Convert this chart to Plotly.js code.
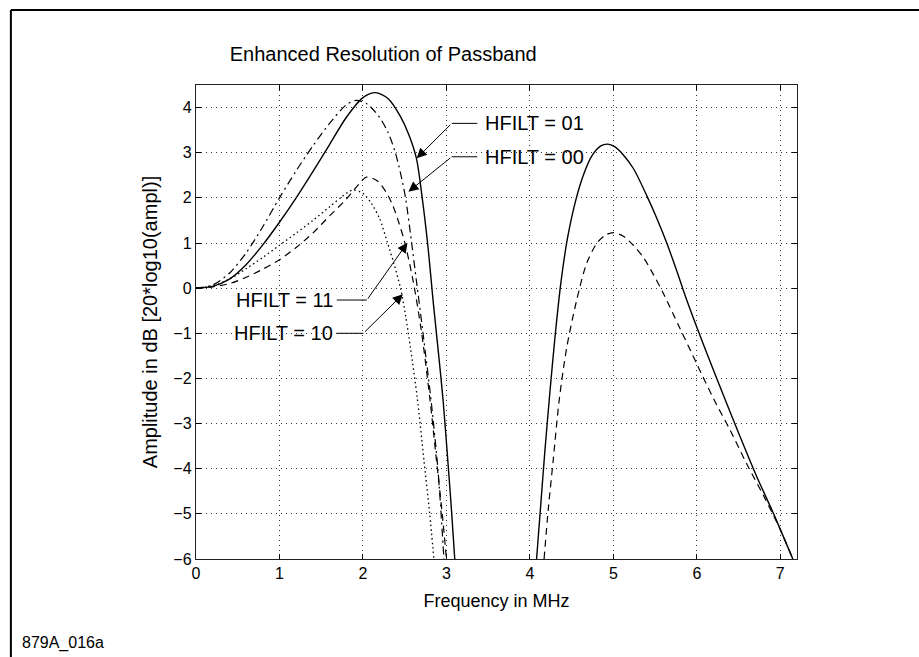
<!DOCTYPE html>
<html><head><meta charset="utf-8">
<script src="https://cdn.plot.ly/plotly-3.0.1.min.js"></script>
<style>html,body{margin:0;padding:0;background:#fff}#chart{width:919px;height:657px}</style>
</head><body><div id="chart"></div>
<script>
// HFILT = 01 (solid)
const fSolid1 = [0, 0.2, 0.4, 0.6, 0.8, 1.0, 1.2, 1.4, 1.6, 1.8, 2.0, 2.15, 2.3, 2.45, 2.55, 2.64, 2.71, 2.78, 2.84, 2.9, 2.96, 3.02, 3.06, 3.1];
const vSolid1 = [0, 0.04, 0.2, 0.52, 0.96, 1.46, 2.0, 2.58, 3.18, 3.78, 4.22, 4.33, 4.2, 3.8, 3.4, 2.88, 2.0, 0.9, -0.27, -1.35, -2.48, -3.9, -4.9, -6];
const fSolid2 = [4.08, 4.13, 4.18, 4.24, 4.3, 4.37, 4.45, 4.55, 4.65, 4.75, 4.85, 4.93, 5.02, 5.12, 5.24, 5.4, 5.52, 5.64, 5.76, 5.88, 6.1, 6.4, 6.7, 6.92, 7.15];
const vSolid2 = [-6, -4.8, -3.6, -2.3, -1.1, 0.1, 1.1, 1.95, 2.55, 2.95, 3.15, 3.19, 3.13, 2.95, 2.65, 2.05, 1.55, 1.0, 0.38, -0.27, -1.35, -2.75, -4.1, -5.0, -6];
// HFILT = 00 (dashed)
const fDash1 = [0, 0.2, 0.4, 0.6, 0.8, 1.0, 1.2, 1.4, 1.6, 1.8, 1.95, 2.04, 2.17, 2.28, 2.36, 2.43, 2.5, 2.6, 2.7, 2.8, 2.88, 2.95, 3.0];
const vDash1 = [0, 0.03, 0.1, 0.24, 0.42, 0.63, 0.9, 1.22, 1.6, 1.97, 2.3, 2.46, 2.38, 2.12, 1.82, 1.45, 1.02, 0.17, -0.95, -2.42, -3.8, -5.0, -6];
const fDash2 = [4.17, 4.22, 4.28, 4.35, 4.44, 4.56, 4.68, 4.8, 4.9, 5.0, 5.12, 5.24, 5.36, 5.48, 5.6, 5.8, 6.0, 6.2, 6.4, 6.6, 6.8, 7.0, 7.15];
const vDash2 = [-6, -4.9, -3.8, -2.5, -1.33, -0.27, 0.55, 0.99, 1.17, 1.23, 1.15, 0.95, 0.68, 0.3, -0.12, -0.9, -1.68, -2.45, -3.15, -3.9, -4.6, -5.35, -6];
// HFILT = 11 (dash-dot)
const fDashDot = [0, 0.2, 0.4, 0.6, 0.8, 1.0, 1.2, 1.4, 1.6, 1.8, 1.92, 2.05, 2.2, 2.3, 2.38, 2.45, 2.51, 2.58, 2.64, 2.72, 2.82, 2.9, 2.97];
const vDashDot = [0, 0.07, 0.33, 0.78, 1.36, 2.0, 2.6, 3.15, 3.65, 4.06, 4.16, 4.08, 3.78, 3.45, 3.05, 2.55, 2.0, 1.05, 0.17, -1.0, -2.55, -4.05, -6];
// HFILT = 10 (dotted)
const fDot = [0, 0.2, 0.4, 0.6, 0.8, 1.0, 1.2, 1.4, 1.6, 1.75, 1.87, 2.0, 2.1, 2.2, 2.29, 2.37, 2.45, 2.51, 2.57, 2.65, 2.73, 2.8, 2.85];
const vDot = [0, 0.05, 0.2, 0.43, 0.68, 0.95, 1.22, 1.5, 1.8, 2.03, 2.17, 2.1, 1.88, 1.54, 1.03, 0.55, 0.0, -0.6, -1.33, -2.42, -3.8, -5.0, -6];

const xTicks = [0, 1, 2, 3, 4, 5, 6, 7];
const yTicks = [-6, -5, -4, -3, -2, -1, 0, 1, 2, 3, 4];
const labels = ['HFILT = 01', 'HFILT = 00', 'HFILT = 11', 'HFILT = 10'];

const FONT = 'Liberation Sans, Arial, Helvetica, sans-serif';
function tr(x, y, dash, w) {
  return {x: x, y: y, type: 'scatter', mode: 'lines', showlegend: false,
    line: {color: '#000', width: w || 1.3, dash: dash, shape: 'spline', smoothing: 0.8}, hoverinfo: 'skip'};
}
const data = [
  tr(fDot, vDot, '1.5px,3px', 1.3),
  tr(fDashDot, vDashDot, '8px,4px,2px,4px', 1.2),
  tr(fDash1, vDash1, '7px,5px', 1.2),
  tr(fDash2, vDash2, '7px,5px', 1.2),
  tr(fSolid1, vSolid1, 'solid', 1.4),
  tr(fSolid2, vSolid2, 'solid', 1.4)
];

// annotation leaders: [textX, textY, lineX0, lineX1, tipX, tipY, anchor]
const leaders = [
  [3.435, 3.65, 3.064, 3.37, 2.644, 2.876, 'left'],
  [3.435, 2.91, 3.064, 3.37, 2.545, 2.136, 'left'],
  [1.667, -0.263, 1.687, 2.047, 2.533, 1.006, 'right'],
  [1.667, -1.0, 1.687, 2.005, 2.478, -0.137, 'right']
];
const shapes = [];
const annotations = [];
leaders.forEach((L, i) => {
  shapes.push({type: 'line', xref: 'x', yref: 'y', x0: L[2], x1: L[3], y0: L[1], y1: L[1], line: {color: '#000', width: 1}});
  const tail = L[6] === 'left' ? L[2] : L[3];
  annotations.push({x: L[4], y: L[5], ax: tail, ay: L[1], axref: 'x', ayref: 'y', xref: 'x', yref: 'y',
    text: '', showarrow: true, arrowhead: 2, arrowsize: 2, arrowwidth: 1, arrowcolor: '#000', standoff: 0, startstandoff: 0});
  annotations.push({x: L[0], y: L[1], xref: 'x', yref: 'y', text: labels[i], showarrow: false,
    xanchor: L[6], yanchor: 'middle', font: {family: FONT, size: 20, color: '#000'}});
});
annotations.push({x: -0.293, y: -0.177, xref: 'paper', yref: 'paper', text: '879A_016a', showarrow: false,
  xanchor: 'left', yanchor: 'middle', font: {family: FONT, size: 16, color: '#000'}});
// outer frame
shapes.push({type: 'line', xref: 'paper', yref: 'paper', x0: -0.308, x1: -0.308, y0: -0.25, y1: 1.158, line: {color: '#000', width: 2}});
shapes.push({type: 'line', xref: 'paper', yref: 'paper', x0: -0.308, x1: 1.25, y0: 1.158, y1: 1.158, line: {color: '#000', width: 2}});

const axisCommon = {
  showline: true, mirror: 'ticks', linecolor: '#222', linewidth: 1.2,
  ticks: 'inside', ticklen: 5, tickcolor: '#000', tickwidth: 1,
  showgrid: true, gridcolor: '#333', gridwidth: 1, griddash: '1px,4px',
  zeroline: false, tickfont: {family: FONT, size: 16, color: '#000'}
};
const layout = {
  width: 919, height: 657,
  margin: {l: 196, r: 122, t: 85, b: 98},
  paper_bgcolor: '#fff', plot_bgcolor: '#fff',
  title: {text: 'Enhanced Resolution of Passband', x: 0.25, xref: 'container', xanchor: 'left',
    y: 0.918, yref: 'container', yanchor: 'middle', font: {family: FONT, size: 20, color: '#000'}},
  xaxis: Object.assign({}, axisCommon, {range: [0, 7.2], tickvals: xTicks,
    title: {text: 'Frequency in MHz', font: {family: FONT, size: 18, color: '#000'}, standoff: 13}}),
  yaxis: Object.assign({}, axisCommon, {range: [-6, 4.5], tickvals: yTicks,
    title: {text: 'Amplitude in dB [20*log10(ampl)]', font: {family: FONT, size: 20, color: '#000'}, standoff: 10}}),
  shapes: shapes, annotations: annotations, showlegend: false
};
Plotly.newPlot('chart', data, layout, {displayModeBar: false, staticPlot: true});
</script></body></html>
